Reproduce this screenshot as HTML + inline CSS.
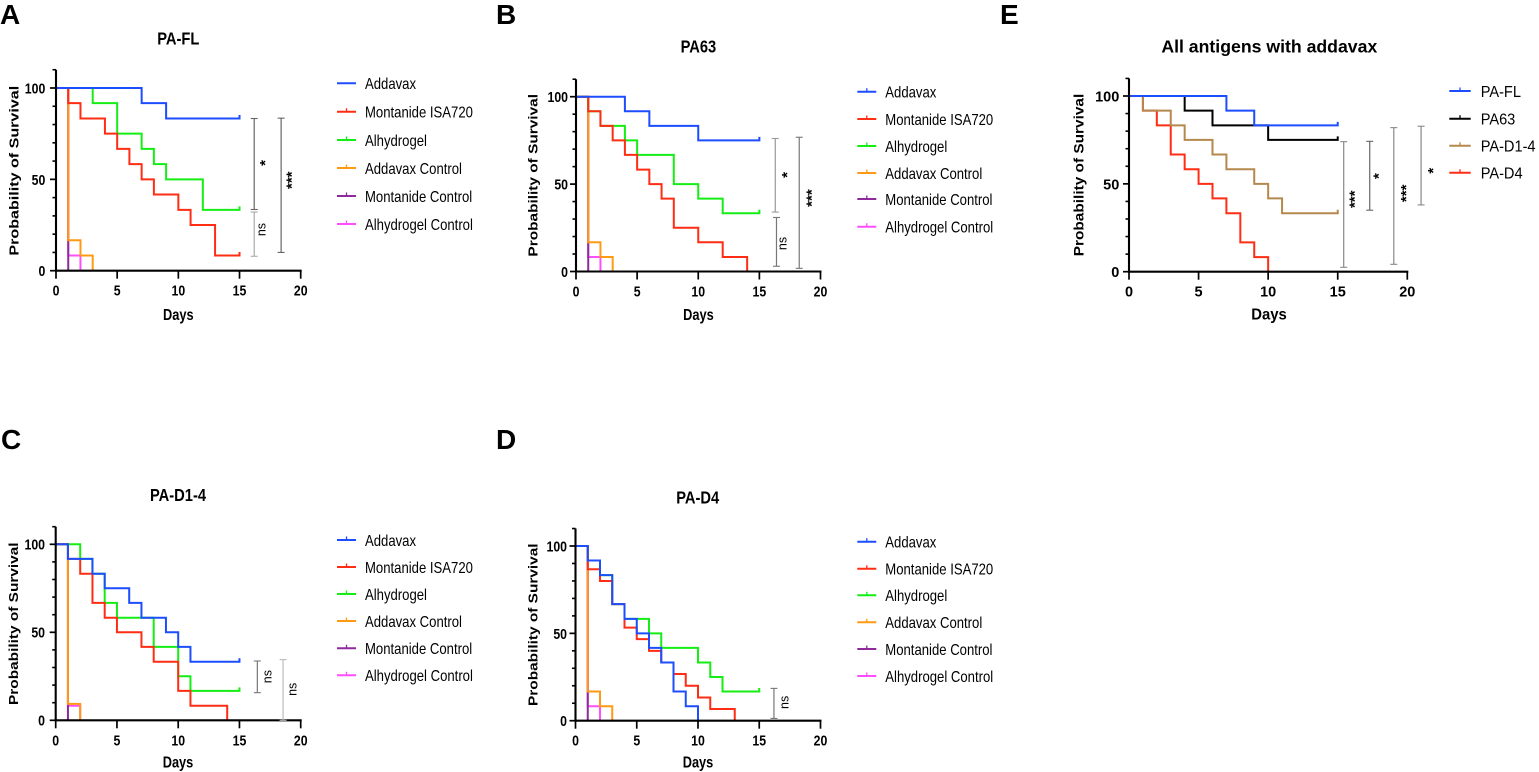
<!DOCTYPE html>
<html lang="en">
<head>
<meta charset="utf-8">
<title>Survival curves by antigen and adjuvant</title>
<style>
html,body{margin:0;padding:0;background:#fff;}
svg{display:block;filter:blur(0.35px);}
text{font-family:"Liberation Sans",sans-serif;fill:#000;}
</style>
</head>
<body>
<svg id="figure" width="1539" height="772" viewBox="0 0 1539 772" xmlns="http://www.w3.org/2000/svg"></svg>
<script>
// Axis ticks (days, percent survival)
const xTicks = [0, 5, 10, 15, 20];
const yMajorTicks = [0, 50, 100];
const yMinorTicks = [10, 20, 30, 40, 60, 70, 80, 90, 110];

// Group names
const adjuvantGroups = ['Addavax', 'Montanide ISA720', 'Alhydrogel', 'Addavax Control', 'Montanide Control', 'Alhydrogel Control'];
const antigenGroups = ['PA-FL', 'PA63', 'PA-D1-4', 'PA-D4'];

// Panel A: PA-FL
const aAddavaxDays = [0, 7, 9, 15];
const aAddavaxSurvival = [100, 91.7, 83.3, 83.3];
const aMontanideDays = [0, 1, 2, 4, 5, 6, 7, 8, 10, 11, 13, 15];
const aMontanideSurvival = [100, 91.7, 83.3, 75, 66.7, 58.3, 50, 41.7, 33.3, 25, 8.3, 8.3];
const aAlhydrogelDays = [0, 3, 5, 7, 8, 9, 12, 15];
const aAlhydrogelSurvival = [100, 91.7, 75, 66.7, 58.3, 50, 33.3, 33.3];
const aAddavaxCtrlDays = [0, 1, 2, 3];
const aAddavaxCtrlSurvival = [100, 16.7, 8.3, 0];
const aMontanideCtrlDays = [0, 1];
const aMontanideCtrlSurvival = [100, 0];
const aAlhydrogelCtrlDays = [0, 1, 2];
const aAlhydrogelCtrlSurvival = [100, 8.3, 0];
const aBracketDays = [16.2, 16.2, 18.4];
const aBracketLows = [33.5, 7.9, 10];
const aBracketHighs = [83.3, 32.1, 83.5];
const aBracketLabels = ['*', 'ns', '***'];
const aBracketLabelDays = [16.85, 16.8, 19.0];
const aBracketLabelValues = [59, 22.5, 49.5];

// Panel B: PA63
const bAddavaxDays = [0, 4, 6, 10, 15];
const bAddavaxSurvival = [100, 91.7, 83.3, 75, 75];
const bMontanideDays = [0, 1, 2, 3, 4, 5, 6, 7, 8, 10, 12, 14];
const bMontanideSurvival = [100, 91.7, 83.3, 75, 66.7, 58.3, 50, 41.7, 25, 16.7, 8.3, 0];
const bAlhydrogelDays = [0, 1, 2, 4, 5, 8, 10, 12, 15];
const bAlhydrogelSurvival = [100, 91.7, 83.3, 75, 66.7, 50, 41.7, 33.3, 33.3];
const bAddavaxCtrlDays = [0, 1, 2, 3];
const bAddavaxCtrlSurvival = [100, 16.7, 8.3, 0];
const bMontanideCtrlDays = [0, 1];
const bMontanideCtrlSurvival = [100, 0];
const bAlhydrogelCtrlDays = [0, 1, 2];
const bAlhydrogelCtrlSurvival = [100, 8.3, 0];
const bBracketDays = [16.3, 16.4, 18.26];
const bBracketLows = [34, 3, 1.8];
const bBracketHighs = [76.1, 30.9, 76.8];
const bBracketLabels = ['*', 'ns', '***'];
const bBracketLabelDays = [17.0, 16.9, 19.0];
const bBracketLabelValues = [55.2, 16, 42];

// Panel C: PA-D1-4
const cAddavaxDays = [0, 1, 3, 4, 6, 7, 9, 10, 11, 15];
const cAddavaxSurvival = [100, 91.7, 83.3, 75, 66.7, 58.3, 50, 41.7, 33.3, 33.3];
const cMontanideDays = [0, 1, 2, 3, 4, 5, 7, 8, 10, 11, 14];
const cMontanideSurvival = [100, 91.7, 83.3, 66.7, 58.3, 50, 41.7, 33.3, 16.7, 8.3, 0];
const cAlhydrogelDays = [0, 2, 3, 4, 5, 8, 10, 11, 15];
const cAlhydrogelSurvival = [100, 91.7, 83.3, 66.7, 58.3, 41.7, 25, 16.7, 16.7];
const cAddavaxCtrlDays = [0, 1, 2];
const cAddavaxCtrlSurvival = [100, 9.3, 0];
const cMontanideCtrlDays = [0, 1];
const cMontanideCtrlSurvival = [100, 0];
const cAlhydrogelCtrlDays = [0, 1, 2];
const cAlhydrogelCtrlSurvival = [100, 8.3, 0];
const cBracketDays = [16.46, 18.56];
const cBracketLows = [15.7, 0];
const cBracketHighs = [33.7, 34.5];
const cBracketLabels = ['ns', 'ns'];
const cBracketLabelDays = [17.28, 19.35];
const cBracketLabelValues = [24.8, 17.6];

// Panel D: PA-D4
const dAddavaxDays = [0, 1, 2, 3, 4, 5, 6, 7, 8, 9, 10];
const dAddavaxSurvival = [100, 91.7, 83.3, 66.7, 58.3, 50, 41.7, 33.3, 16.7, 8.3, 0];
const dMontanideDays = [0, 1, 2, 3, 4, 5, 6, 7, 8, 9, 10, 11, 13];
const dMontanideSurvival = [100, 86.7, 80, 66.7, 53.3, 46.7, 40, 33.3, 26.7, 20, 13.3, 6.7, 0];
const dAlhydrogelDays = [0, 1, 2, 3, 4, 6, 7, 10, 11, 12, 15];
const dAlhydrogelSurvival = [100, 91.7, 83.3, 66.7, 58.3, 50, 41.7, 33.3, 25, 16.7, 16.7];
const dAddavaxCtrlDays = [0, 1, 2, 3];
const dAddavaxCtrlSurvival = [100, 16.7, 8.3, 0];
const dMontanideCtrlDays = [0, 1];
const dMontanideCtrlSurvival = [100, 0];
const dAlhydrogelCtrlDays = [0, 1, 2];
const dAlhydrogelCtrlSurvival = [100, 8.3, 0];
const dBracketDays = [16.2];
const dBracketLows = [1.3];
const dBracketHighs = [18.5];
const dBracketLabels = ['ns'];
const dBracketLabelDays = [17.08];
const dBracketLabelValues = [10.5];

// Panel E: all antigens with addavax
const ePaFlDays = [0, 7, 9, 15];
const ePaFlSurvival = [100, 91.7, 83.3, 83.3];
const ePa63Days = [0, 4, 6, 10, 15];
const ePa63Survival = [100, 91.7, 83.3, 75, 75];
const ePaD14Days = [0, 1, 3, 4, 6, 7, 9, 10, 11, 15];
const ePaD14Survival = [100, 91.7, 83.3, 75, 66.7, 58.3, 50, 41.7, 33.3, 33.3];
const ePaD4Days = [0, 1, 2, 3, 4, 5, 6, 7, 8, 9, 10];
const ePaD4Survival = [100, 91.7, 83.3, 66.7, 58.3, 50, 41.7, 33.3, 16.7, 8.3, 0];
const eBracketDays = [15.43, 17.3, 19.03, 20.99];
const eBracketLows = [2.5, 35, 4.2, 38];
const eBracketHighs = [74, 74.2, 82, 82.8];
const eBracketLabels = ['***', '*', '***', '*'];
const eBracketLabelDays = [16, 17.73, 19.69, 21.63];
const eBracketLabelValues = [41.2, 54.4, 44.6, 57.5];

const adjuvantColors = ['#1c4dff', '#ff2d14', '#14ee14', '#ff9a14', '#8e2a9c', '#ff4dff'];
const antigenColors = ['#1c4dff', '#000000', '#b5884e', '#ff2d14'];

const NS = 'http://www.w3.org/2000/svg';
const figure = document.getElementById('figure');

function slug(s) {
  return s.toLowerCase().replace(/[^a-z0-9]+/g, '-').replace(/^-|-$/g, '');
}

function addText(parent, name, str, x, y, o) {
  const el = document.createElementNS(NS, 'text');
  
  
  el.setAttribute('transform', 'translate(' + x + ' ' + y + ') rotate(' + (o.rot || 0) + ') scale(' + (o.sx || 1) + ' ' + (o.sy || 1) + ')');
  el.setAttribute('font-size', o.size);
  el.setAttribute('font-weight', o.weight || 'normal');
  el.setAttribute('text-anchor', o.anchor || 'start');
  el.textContent = str;
  parent.appendChild(el);
  return el;
}

function addLine(parent, name, x1, y1, x2, y2, color, width) {
  const el = document.createElementNS(NS, 'line');
  
  
  el.setAttribute('x1', x1);
  el.setAttribute('y1', y1);
  el.setAttribute('x2', x2);
  el.setAttribute('y2', y2);
  el.setAttribute('stroke', color);
  el.setAttribute('stroke-width', width);
  parent.appendChild(el);
  return el;
}

function drawPanel(p) {
  const g = document.createElementNS(NS, 'g');
  
  
  figure.appendChild(g);

  const xScale = d => p.x0 + (d / 20) * (p.x20 - p.x0);
  const yScale = v => p.y0 + (v / 100) * (p.y100 - p.y0);

  addText(g, 'panel-letter', p.letter, p.letterX, p.letterY, { size: 28, weight: 'bold' });
  addText(g, 'chart-title', p.title, p.titleX, p.titleY, { size: 17.5, weight: 'bold', anchor: 'middle', sx: p.titleSx });

  // Series: last group is drawn first, so the first group lies on top.
  for (let i = p.series.length - 1; i >= 0; i--) {
    const s = p.series[i];
    let d = 'M' + xScale(s.days[0]) + ' ' + yScale(s.values[0]);
    for (let k = 1; k < s.days.length; k++) {
      d += 'H' + xScale(s.days[k]) + 'V' + yScale(s.values[k]);
    }
    const last = s.values.length - 1;
    if (s.values[last] > 0) {
      d += 'v-3.5';
    }
    const path = document.createElementNS(NS, 'path');
    
    
    path.setAttribute('d', d);
    path.setAttribute('fill', 'none');
    path.setAttribute('stroke', s.color);
    path.setAttribute('stroke-width', '2');
    path.setAttribute('stroke-linejoin', 'miter');
    g.appendChild(path);
  }

  // Axes
  addLine(g, 'y-axis', p.x0, yScale(110), p.x0, p.y0 + 1, '#000', 2.1);
  addLine(g, 'x-axis', p.x0 - 1, p.y0, p.x20 + 1, p.y0, '#000', 2.1);
  yMinorTicks.forEach(v => {
    addLine(g, 'y-minor-tick', p.x0 - 3.5, yScale(v), p.x0, yScale(v), '#000', 1.6);
  });
  yMajorTicks.forEach(v => {
    addLine(g, 'y-major-tick', p.x0 - 6, yScale(v), p.x0, yScale(v), '#000', 1.7);
    addText(g, 'y-tick-label', String(v), p.x0 - p.yLabelGap, yScale(v) + 5.4, { size: p.tickSize, weight: 'bold', anchor: 'end', sx: p.tickSx });
  });
  xTicks.forEach(d => {
    addLine(g, 'x-tick', xScale(d), p.y0, xScale(d), p.y0 + 8, '#000', 1.7);
    addText(g, 'x-tick-label', String(d), xScale(d), p.y0 + 25, { size: p.tickSize, weight: 'bold', anchor: 'middle', sx: p.tickSx });
  });
  addText(g, 'x-axis-title', 'Days', p.daysX, p.daysY, { size: 16, weight: 'bold', anchor: 'middle', sx: p.daysSx });
  addText(g, 'y-axis-title', 'Probability of Survival', p.ylabX, p.ylabY, { size: 15.4, weight: 'bold', anchor: 'middle', rot: -90, sx: p.ylabSx, sy: p.ylabSy });

  // Significance brackets
  p.bracketDays.forEach((day, i) => {
    const bx = xScale(day);
    const color = p.bracketColors[i];
    addLine(g, 'significance-bracket', bx, yScale(p.bracketHighs[i]), bx, yScale(p.bracketLows[i]), color, 1.2);
    addLine(g, 'bracket-cap-top', bx - 3.5, yScale(p.bracketHighs[i]), bx + 3.5, yScale(p.bracketHighs[i]), color, 1.1);
    addLine(g, 'bracket-cap-bottom', bx - 3.5, yScale(p.bracketLows[i]), bx + 3.5, yScale(p.bracketLows[i]), color, 1.1);
    const label = p.bracketLabels[i];
    const lx = xScale(p.bracketLabelDays[i]);
    const ly = yScale(p.bracketLabelValues[i]);
    if (label === 'ns') {
      addText(g, 'significance-label', label, lx + 4, ly, { size: 12.5, anchor: 'middle', rot: -90 });
    } else {
      addText(g, 'significance-label', label, lx + 8, ly, { size: 15, weight: 'bold', anchor: 'middle', rot: -90 });
    }
  });

  // Legend
  p.series.forEach((s, i) => {
    const ly = p.legendTop + p.legendOffsets[i];
    const entry = document.createElementNS(NS, 'g');
    
    
    g.appendChild(entry);
    addLine(entry, 'legend-line', p.legendX1, ly, p.legendX2, ly, s.color, 2);
    if (!s.noLegendTick) {
      addLine(entry, 'legend-tick', (p.legendX1 + p.legendX2) / 2, ly, (p.legendX1 + p.legendX2) / 2, ly - 3.5, s.color, 1.3);
    }
    addText(entry, 'legend-label', s.name, p.legendTextX, ly + 5.8, { size: 16, sx: p.legendSx });
  });
}

function adjuvantSeries(sets, noFirstTick) {
  return adjuvantGroups.map((name, i) => ({
    name: name,
    color: adjuvantColors[i],
    days: sets[i][0],
    values: sets[i][1],
    noLegendTick: noFirstTick && i === 0
  }));
}

const narrowPanel = { tickSize: 15, tickSx: 0.82, titleSx: 0.84, daysSx: 0.8, legendSx: 0.82, ylabSx: 1, ylabSy: 0.82 };

drawPanel(Object.assign({}, narrowPanel, {
  letter: 'A', letterX: 0, letterY: 24,
  title: 'PA-FL', titleX: 178.3, titleY: 44.3,
  x0: 56, x20: 300.7, y0: 270.7, y100: 88, yLabelGap: 10.7,
  daysX: 178.3, daysY: 320, ylabX: 18.5, ylabY: 170.7, ylabSx: 1.045,
  series: adjuvantSeries([
    [aAddavaxDays, aAddavaxSurvival], [aMontanideDays, aMontanideSurvival], [aAlhydrogelDays, aAlhydrogelSurvival],
    [aAddavaxCtrlDays, aAddavaxCtrlSurvival], [aMontanideCtrlDays, aMontanideCtrlSurvival], [aAlhydrogelCtrlDays, aAlhydrogelCtrlSurvival]
  ], true),
  bracketDays: aBracketDays, bracketLows: aBracketLows, bracketHighs: aBracketHighs,
  bracketLabels: aBracketLabels, bracketLabelDays: aBracketLabelDays, bracketLabelValues: aBracketLabelValues,
  bracketColors: ['#666', '#aaa', '#666'],
  legendX1: 337, legendX2: 356, legendTextX: 365, legendTop: 83.3,
  legendOffsets: [0, 28.4, 56.7, 84.7, 112.7, 140.7]
}));

drawPanel(Object.assign({}, narrowPanel, {
  letter: 'B', letterX: 496, letterY: 24,
  title: 'PA63', titleX: 698.4, titleY: 52.7,
  x0: 576, x20: 820.5, y0: 271.5, y100: 96.7, yLabelGap: 8,
  daysX: 698.4, daysY: 320, ylabX: 537.3, ylabY: 175.3,
  series: adjuvantSeries([
    [bAddavaxDays, bAddavaxSurvival], [bMontanideDays, bMontanideSurvival], [bAlhydrogelDays, bAlhydrogelSurvival],
    [bAddavaxCtrlDays, bAddavaxCtrlSurvival], [bMontanideCtrlDays, bMontanideCtrlSurvival], [bAlhydrogelCtrlDays, bAlhydrogelCtrlSurvival]
  ], false),
  bracketDays: bBracketDays, bracketLows: bBracketLows, bracketHighs: bBracketHighs,
  bracketLabels: bBracketLabels, bracketLabelDays: bBracketLabelDays, bracketLabelValues: bBracketLabelValues,
  bracketColors: ['#999', '#777', '#777'],
  legendX1: 857.3, legendX2: 876.3, legendTextX: 885.3, legendTop: 91.7,
  legendOffsets: [0, 27.3, 54.3, 81.3, 107.3, 135]
}));

drawPanel(Object.assign({}, narrowPanel, {
  letter: 'C', letterX: 1, letterY: 449,
  title: 'PA-D1-4', titleX: 178, titleY: 501,
  x0: 55.7, x20: 300.7, y0: 720.3, y100: 544.3, yLabelGap: 10.7,
  daysX: 178, daysY: 767.3, ylabX: 18, ylabY: 623.7,
  series: adjuvantSeries([
    [cAddavaxDays, cAddavaxSurvival], [cMontanideDays, cMontanideSurvival], [cAlhydrogelDays, cAlhydrogelSurvival],
    [cAddavaxCtrlDays, cAddavaxCtrlSurvival], [cMontanideCtrlDays, cMontanideCtrlSurvival], [cAlhydrogelCtrlDays, cAlhydrogelCtrlSurvival]
  ], false),
  bracketDays: cBracketDays, bracketLows: cBracketLows, bracketHighs: cBracketHighs,
  bracketLabels: cBracketLabels, bracketLabelDays: cBracketLabelDays, bracketLabelValues: cBracketLabelValues,
  bracketColors: ['#777', '#bbb'],
  legendX1: 337, legendX2: 356, legendTextX: 365, legendTop: 540,
  legendOffsets: [0, 27, 54, 81, 108.3, 135.3]
}));

drawPanel(Object.assign({}, narrowPanel, {
  letter: 'D', letterX: 496, letterY: 449,
  title: 'PA-D4', titleX: 697.7, titleY: 503.3,
  x0: 575.5, x20: 820.5, y0: 720.7, y100: 546, yLabelGap: 8.5,
  daysX: 698, daysY: 767.3, ylabX: 537.3, ylabY: 624.7,
  series: adjuvantSeries([
    [dAddavaxDays, dAddavaxSurvival], [dMontanideDays, dMontanideSurvival], [dAlhydrogelDays, dAlhydrogelSurvival],
    [dAddavaxCtrlDays, dAddavaxCtrlSurvival], [dMontanideCtrlDays, dMontanideCtrlSurvival], [dAlhydrogelCtrlDays, dAlhydrogelCtrlSurvival]
  ], false),
  bracketDays: dBracketDays, bracketLows: dBracketLows, bracketHighs: dBracketHighs,
  bracketLabels: dBracketLabels, bracketLabelDays: dBracketLabelDays, bracketLabelValues: dBracketLabelValues,
  bracketColors: ['#777'],
  legendX1: 857.3, legendX2: 876.3, legendTextX: 885.3, legendTop: 541.7,
  legendOffsets: [0, 27, 53.6, 80.6, 107.3, 134.3]
}));

drawPanel({
  letter: 'E', letterX: 1000, letterY: 24,
  title: 'All antigens with addavax', titleX: 1269.3, titleY: 52.7, titleSx: 1.01,
  x0: 1129, x20: 1407.3, y0: 271.7, y100: 96, yLabelGap: 9.7,
  tickSize: 14.5, tickSx: 1, daysSx: 0.93, legendSx: 0.913, ylabSx: 1, ylabSy: 0.88,
  daysX: 1269, daysY: 319.3, ylabX: 1083.3, ylabY: 175,
  series: antigenGroups.map((name, i) => ({
    name: name,
    color: antigenColors[i],
    days: [ePaFlDays, ePa63Days, ePaD14Days, ePaD4Days][i],
    values: [ePaFlSurvival, ePa63Survival, ePaD14Survival, ePaD4Survival][i]
  })),
  bracketDays: eBracketDays, bracketLows: eBracketLows, bracketHighs: eBracketHighs,
  bracketLabels: eBracketLabels, bracketLabelDays: eBracketLabelDays, bracketLabelValues: eBracketLabelValues,
  bracketColors: ['#888', '#666', '#888', '#888'],
  legendX1: 1449.3, legendX2: 1470.7, legendTextX: 1480.7, legendTop: 91,
  legendOffsets: [0, 27.7, 54.7, 81.7]
});
</script>
</body>
</html>
